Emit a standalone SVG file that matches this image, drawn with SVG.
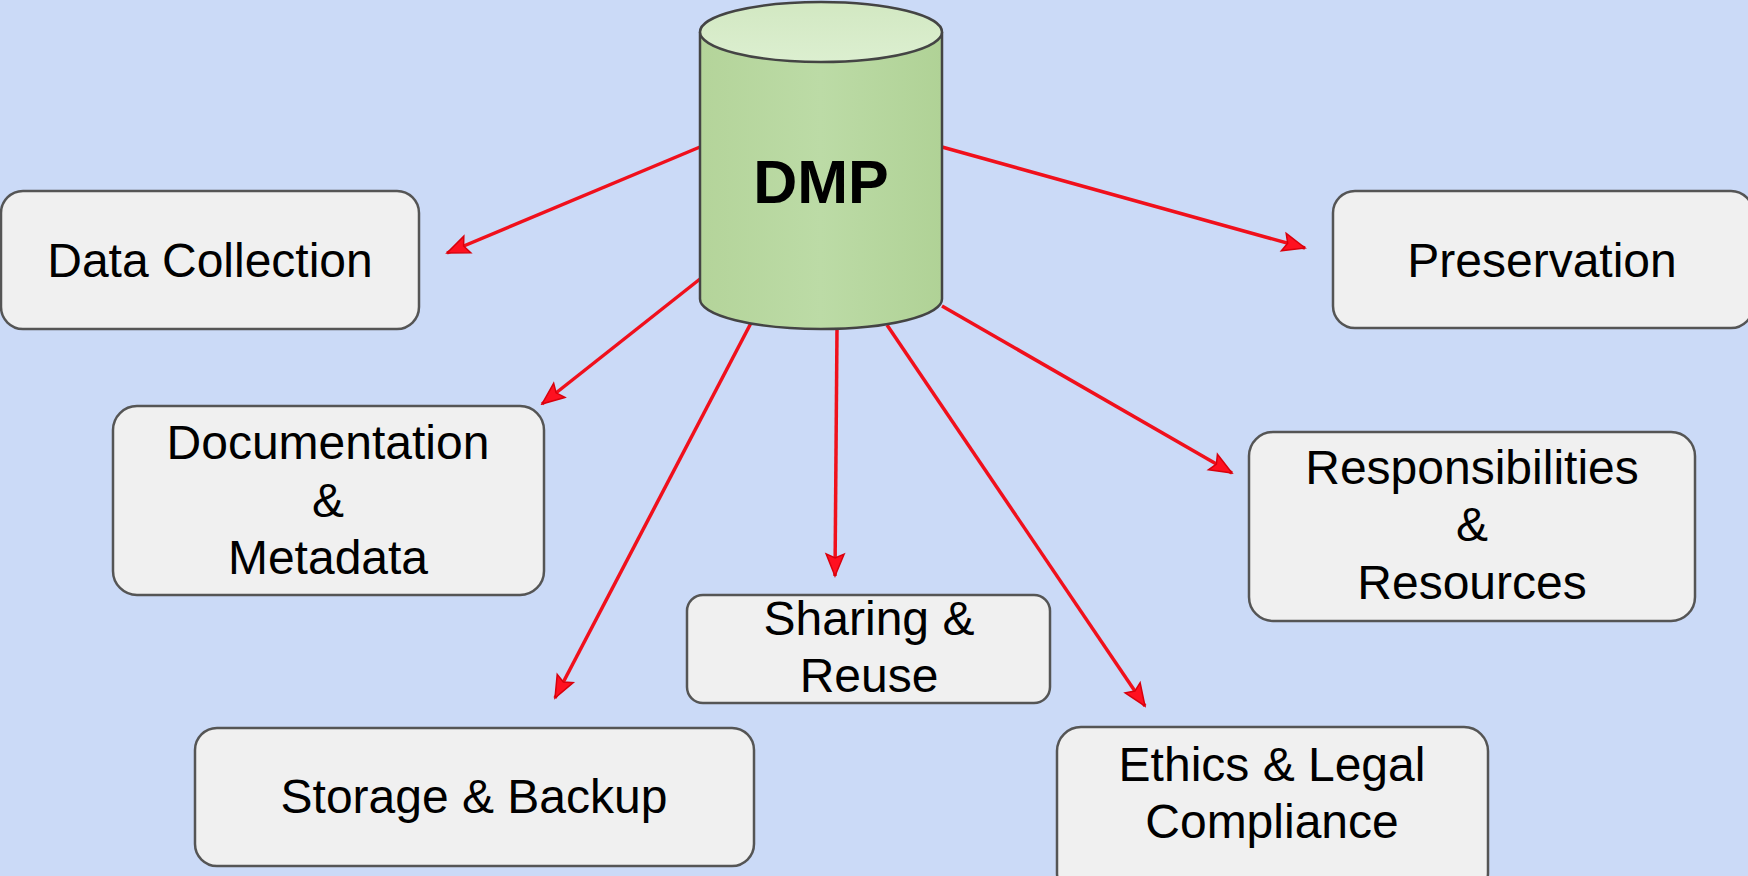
<svg xmlns="http://www.w3.org/2000/svg" width="1748" height="876" viewBox="0 0 1748 876">
<defs>
<linearGradient id="cylBody" x1="0" y1="0" x2="1" y2="0">
<stop offset="0" stop-color="#b4d49a"/>
<stop offset="0.5" stop-color="#bcdba6"/>
<stop offset="1" stop-color="#b0d296"/>
</linearGradient>
<linearGradient id="cylTop" x1="0" y1="0" x2="0" y2="1">
<stop offset="0" stop-color="#d2e8c2"/>
<stop offset="1" stop-color="#dcefd0"/>
</linearGradient>
<marker id="arr" markerUnits="userSpaceOnUse" markerWidth="26" markerHeight="22" viewBox="0 0 26 22" refX="24" refY="11" orient="auto">
<path d="M2,2 L24,11 L2,20 L6,11 z" fill="#ff1020" stroke="#d8000c" stroke-width="1.5" stroke-linejoin="miter"/>
</marker>
<style>
.box{fill:#f0f0f0;stroke:#555;stroke-width:2.5}
.lbl{font-family:"Liberation Sans",Arial,sans-serif;font-size:48px;fill:#000;text-anchor:middle}
.conn{stroke:#f0101c;stroke-width:3.5;fill:none;marker-end:url(#arr)}
</style>
</defs>
<rect x="0" y="0" width="1748" height="876" fill="#cbdaf7"/>

<g id="connectors">
<line class="conn" x1="700" y1="147" x2="447" y2="253"/>
<line class="conn" x1="942" y1="147" x2="1305" y2="248"/>
<line class="conn" x1="700" y1="279" x2="542" y2="404"/>
<line class="conn" x1="751" y1="323" x2="555" y2="698"/>
<line class="conn" x1="837" y1="329" x2="835" y2="576"/>
<line class="conn" x1="887" y1="325" x2="1145" y2="706"/>
<line class="conn" x1="942" y1="306" x2="1232" y2="473"/>
</g>

<g id="dmp">
<path d="M700,32 L700,299 A121,30 0 0 0 942,299 L942,32" fill="url(#cylBody)" stroke="#444" stroke-width="2.5"/>
<ellipse cx="821" cy="32" rx="121" ry="30" fill="url(#cylTop)" stroke="#444" stroke-width="2.5"/>
<text x="821" y="203" font-family="'Liberation Sans',Arial,sans-serif" font-size="61" font-weight="bold" text-anchor="middle" fill="#000">DMP</text>
</g>

<g id="data-collection">
<rect class="box" x="1" y="191" width="418" height="138" rx="22"/>
<text class="lbl" x="210" y="277">Data Collection</text>
</g>

<g id="preservation">
<rect class="box" x="1333" y="191" width="420" height="137" rx="22"/>
<text class="lbl" x="1542" y="277">Preservation</text>
</g>

<g id="documentation">
<rect class="box" x="113" y="406" width="431" height="189" rx="24"/>
<text class="lbl" x="328" y="459">Documentation</text>
<text class="lbl" x="328" y="517">&amp;</text>
<text class="lbl" x="328" y="574">Metadata</text>
</g>

<g id="responsibilities">
<rect class="box" x="1249" y="432" width="446" height="189" rx="24"/>
<text class="lbl" x="1472" y="484">Responsibilities</text>
<text class="lbl" x="1472" y="541">&amp;</text>
<text class="lbl" x="1472" y="599">Resources</text>
</g>

<g id="sharing">
<rect class="box" x="687" y="595" width="363" height="108" rx="16"/>
<text class="lbl" x="869" y="635">Sharing &amp;</text>
<text class="lbl" x="869" y="692">Reuse</text>
</g>

<g id="storage">
<rect class="box" x="195" y="728" width="559" height="138" rx="22"/>
<text class="lbl" x="474" y="813">Storage &amp; Backup</text>
</g>

<g id="ethics">
<rect class="box" x="1057" y="727" width="431" height="170" rx="24"/>
<text class="lbl" x="1272" y="781">Ethics &amp; Legal</text>
<text class="lbl" x="1272" y="838">Compliance</text>
</g>
</svg>
